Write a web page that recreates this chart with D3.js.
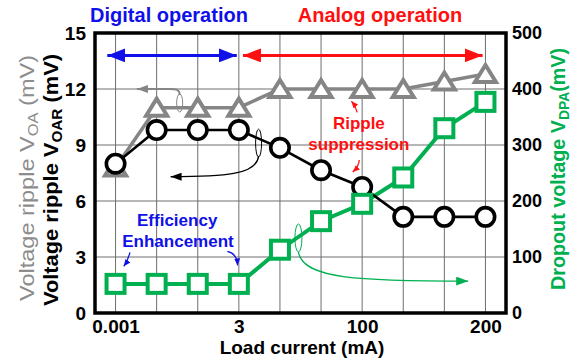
<!DOCTYPE html>
<html>
<head>
<meta charset="utf-8">
<script src="https://cdn.jsdelivr.net/npm/d3@7"></script>
<style>
  html, body { margin: 0; padding: 0; background: #fff; }
  svg { display: block; font-family: "Liberation Sans", Arial, sans-serif; }
</style>
</head>
<body>
<svg id="chart" width="580" height="362"></svg>
<script>
// Load current points (evenly spaced categories), only some are labelled
const loadPoints = [0, 1, 2, 3, 4, 5, 6, 7, 8, 9];
const loadLabels = ["0.001", "", "", "3", "", "", "100", "", "", "200"];

// Output ripple without ripple suppression, V_OA (mV, left axis)
const rippleVOA = [7.8, 11, 11, 11, 12, 12, 12, 12, 12.4, 12.8];
// Output ripple with ripple suppression, V_OAR (mV, left axis)
const rippleVOAR = [8.0, 9.8, 9.8, 9.8, 8.85, 7.65, 6.75, 5.15, 5.15, 5.15];
// Dropout voltage V_DPA (mV, right axis)
const dropoutVDPA = [52, 52, 52, 52, 113, 164, 195, 242, 330, 377];

const leftTicks = [0, 3, 6, 9, 12, 15];
const rightTicks = [0, 100, 200, 300, 400, 500];

const GREEN = "#00b050", GRAY = "#858585", BLUE = "#1010e8", RED = "#ff1010";

const svg = d3.select("#chart");
const box = { left: 95, right: 506, top: 33, bottom: 313 };

const x = d3.scalePoint().domain(loadPoints).range([box.left, box.right]).padding(0.5);
const yL = d3.scaleLinear().domain([0, 15]).range([box.bottom, box.top]);
const yR = d3.scaleLinear().domain([0, 500]).range([box.bottom, box.top]);
// position at a fractional category index
const xi = i => x(0) + i * x.step();

// defs: arrowheads
const defs = svg.append("defs");
function head(id, color, w, h) {
  defs.append("marker").attr("id", id)
    .attr("viewBox", `0 0 ${w} ${h}`).attr("refX", w).attr("refY", h / 2)
    .attr("markerWidth", w).attr("markerHeight", h)
    .attr("markerUnits", "userSpaceOnUse").attr("orient", "auto-start-reverse")
    .append("path").attr("d", `M0,0 L${w},${h / 2} L0,${h} Z`).attr("fill", color);
}
head("bigBlue", BLUE, 18, 14);
head("bigRed", RED, 18, 14);
head("grayHead", GRAY, 11, 8);
head("blackHead", "#000", 11, 8);
head("greenHead", GREEN, 12, 9);
head("redSmall", RED, 7, 6);
head("blueSmall", BLUE, 7, 6);

// grid
const grid = svg.append("g");
grid.selectAll("line.v").data(loadPoints).join("line")
  .attr("x1", d => x(d)).attr("x2", d => x(d))
  .attr("y1", box.top).attr("y2", box.bottom)
  .attr("stroke", "#6e6e6e").attr("stroke-width", 1);
grid.selectAll("line.h").data(leftTicks.slice(1, -1)).join("line")
  .attr("x1", box.left).attr("x2", box.right)
  .attr("y1", d => yL(d)).attr("y2", d => yL(d))
  .attr("stroke", "#6e6e6e").attr("stroke-width", 1);

// axes (labels only; frame drawn separately)
const tickFont = sel => sel.selectAll("text")
  .attr("font-size", 19).attr("font-weight", "bold").attr("fill", "#000")
  .attr("font-family", "Liberation Sans, Arial, sans-serif");

const axL = svg.append("g").attr("transform", `translate(${box.left},0)`)
  .call(d3.axisLeft(yL).tickValues(leftTicks).tickSize(0).tickPadding(9));
axL.select(".domain").remove(); tickFont(axL);

const axR = svg.append("g").attr("transform", `translate(${box.right},0)`)
  .call(d3.axisRight(yR).tickValues(rightTicks).tickSize(0).tickPadding(6));
axR.select(".domain").remove(); tickFont(axR);
axR.selectAll("text").attr("font-size", 18);

const axB = svg.append("g").attr("transform", `translate(0,${box.bottom})`)
  .call(d3.axisBottom(x).tickValues(loadPoints.filter(d => loadLabels[d] !== ""))
    .tickFormat(d => loadLabels[d]).tickSize(0).tickPadding(7));
axB.select(".domain").remove(); tickFont(axB);

// frame
svg.append("rect").attr("x", box.left).attr("y", box.top)
  .attr("width", box.right - box.left).attr("height", box.bottom - box.top)
  .attr("fill", "none").attr("stroke", "#000").attr("stroke-width", 3.5);

// axis titles
svg.append("text").attr("x", 302).attr("y", 354).attr("text-anchor", "middle")
  .attr("font-size", 19).attr("font-weight", "bold").text("Load current (mA)");

function rotTitle(cx, cy, main, sub, tail, color, weight, len) {
  const t = svg.append("text").attr("transform", `translate(${cx},${cy}) rotate(-90)`)
    .attr("text-anchor", "middle").attr("font-size", 20).attr("font-weight", weight)
    .attr("fill", color).attr("dy", "0.35em");
  if (len) t.attr("textLength", len).attr("lengthAdjust", "spacingAndGlyphs");
  t.append("tspan").text(main);
  t.append("tspan").attr("font-size", 14).attr("dy", 4).text(sub);
  t.append("tspan").attr("dy", -4).text(tail);
}
rotTitle(27, 178, "Voltage ripple V", "OA", " (mV)", "#8c8c8c", "normal", 246);
rotTitle(51, 180, "Voltage ripple V", "OAR", " (mV)", "#000", "bold", 252);
rotTitle(558, 169, "Dropout voltage V", "DPA", "(mV)", GREEN, "bold", 242);

// top headings and range arrows
svg.append("text").attr("x", 169).attr("y", 22).attr("text-anchor", "middle")
  .attr("font-size", 20).attr("font-weight", "bold").attr("fill", BLUE).text("Digital operation");
svg.append("text").attr("x", 380).attr("y", 22).attr("text-anchor", "middle")
  .attr("font-size", 20).attr("font-weight", "bold").attr("fill", RED).text("Analog operation");

svg.append("line").attr("x1", xi(-0.2)).attr("x2", xi(2.95))
  .attr("y1", yL(13.8)).attr("y2", yL(13.8)).attr("stroke", BLUE).attr("stroke-width", 3)
  .attr("marker-start", "url(#bigBlue)").attr("marker-end", "url(#bigBlue)");
svg.append("line").attr("x1", xi(3.1)).attr("x2", xi(8.93))
  .attr("y1", yL(13.8)).attr("y2", yL(13.8)).attr("stroke", RED).attr("stroke-width", 3)
  .attr("marker-start", "url(#bigRed)").attr("marker-end", "url(#bigRed)");

// series lines
const lineL = d3.line().x((d, i) => x(i)).y(d => yL(d));
const lineR = d3.line().x((d, i) => x(i)).y(d => yR(d));

svg.append("path").datum(dropoutVDPA).attr("d", lineR)
  .attr("fill", "none").attr("stroke", GREEN).attr("stroke-width", 4);
svg.append("path").datum(rippleVOA).attr("d", lineL)
  .attr("fill", "none").attr("stroke", GRAY).attr("stroke-width", 3.5);

// gray triangles
svg.append("g").selectAll("path").data(rippleVOA).join("path")
  .attr("transform", (d, i) => `translate(${x(i)},${yL(d)})`)
  .attr("d", "M0,-9 L10.5,8 L-10.5,8 Z")
  .attr("fill", "#fff").attr("stroke", GRAY).attr("stroke-width", 4).attr("stroke-linejoin", "miter");

svg.append("path").datum(rippleVOAR).attr("d", lineL)
  .attr("fill", "none").attr("stroke", "#000").attr("stroke-width", 2.6);

// black circles
svg.append("g").selectAll("circle").data(rippleVOAR).join("circle")
  .attr("cx", (d, i) => x(i)).attr("cy", d => yL(d)).attr("r", 9.2)
  .attr("fill", "#fff").attr("stroke", "#000").attr("stroke-width", 3.6);

// green squares
svg.append("g").selectAll("rect").data(dropoutVDPA).join("rect")
  .attr("x", (d, i) => x(i) - 9).attr("y", d => yR(d) - 9)
  .attr("width", 18).attr("height", 18)
  .attr("fill", "#fff").attr("stroke", GREEN).attr("stroke-width", 4);

// series call-outs: ellipse around a line + curved arrow to its axis
function callout(ex, ey, rx, ry, pathD, color, w, markerId) {
  svg.append("ellipse").attr("cx", ex).attr("cy", ey).attr("rx", rx).attr("ry", ry)
    .attr("fill", "none").attr("stroke", color).attr("stroke-width", 1);
  svg.append("path").attr("d", pathD).attr("fill", "none")
    .attr("stroke", color).attr("stroke-width", w).attr("marker-end", `url(#${markerId})`);
}
{
  const ex = xi(1.56), ey = yL(11.25);
  callout(ex, ey, 3, 9,
    `M${ex},${ey - 8} C${ex},${yL(12) - 1} ${ex - 6},${yL(12)} ${ex - 14},${yL(12)} L${xi(0.52)},${yL(12)}`,
    GRAY, 2, "grayHead");
}
{
  const ex = xi(3.48), ey = yL(9.1);
  callout(ex, ey, 3, 14,
    `M${ex},${ey + 13} C${ex - 2},${yL(7.4)} ${ex - 35},${yL(7.3)} ${xi(1.34)},${yL(7.3)}`,
    "#000", 1.3, "blackHead");
}
{
  const ex = xi(4.45), ey = yR(134);
  callout(ex, ey, 3.5, 14,
    `M${ex},${ey + 14} C${ex + 4},${yR(60)} ${xi(6)},${yR(57)} ${xi(8.58)},${yR(57)}`,
    GREEN, 1.3, "greenHead");
}

// text annotations
svg.append("text").attr("x", xi(5.92)).attr("y", yL(9.85)).attr("text-anchor", "middle")
  .attr("font-size", 17).attr("font-weight", "bold").attr("fill", RED).text("Ripple");
svg.append("text").attr("x", xi(5.92)).attr("y", yL(8.72)).attr("text-anchor", "middle")
  .attr("font-size", 17).attr("font-weight", "bold").attr("fill", RED).text("suppression");
svg.append("path")
  .attr("d", `M${xi(5.88)},${yL(10.75)} Q${xi(5.85)},${yL(11.05)} ${xi(5.74)},${yL(11.35)}`)
  .attr("fill", "none").attr("stroke", RED).attr("stroke-width", 1.3).attr("marker-end", "url(#redSmall)");
svg.append("path")
  .attr("d", `M${xi(5.93)},${yL(8.2)} Q${xi(5.92)},${yL(7.85)} ${xi(5.77)},${yL(7.55)}`)
  .attr("fill", "none").attr("stroke", RED).attr("stroke-width", 1.3).attr("marker-end", "url(#redSmall)");

svg.append("text").attr("x", xi(1.5)).attr("y", yL(4.66)).attr("text-anchor", "middle")
  .attr("font-size", 17).attr("font-weight", "bold").attr("fill", BLUE).text("Efficiency");
svg.append("text").attr("x", xi(1.52)).attr("y", yL(3.53)).attr("text-anchor", "middle")
  .attr("font-size", 17).attr("font-weight", "bold").attr("fill", BLUE).text("Enhancement");
svg.append("path")
  .attr("d", `M${xi(0.35)},${yL(3.25)} Q${xi(0.3)},${yL(2.8)} ${xi(0.2)},${yL(2.5)}`)
  .attr("fill", "none").attr("stroke", BLUE).attr("stroke-width", 1.3).attr("marker-end", "url(#blueSmall)");
svg.append("path")
  .attr("d", `M${xi(2.72)},${yL(3.3)} Q${xi(2.95)},${yL(3.2)} ${xi(2.97)},${yL(2.55)}`)
  .attr("fill", "none").attr("stroke", BLUE).attr("stroke-width", 1.3).attr("marker-end", "url(#blueSmall)");
</script>
</body>
</html>
